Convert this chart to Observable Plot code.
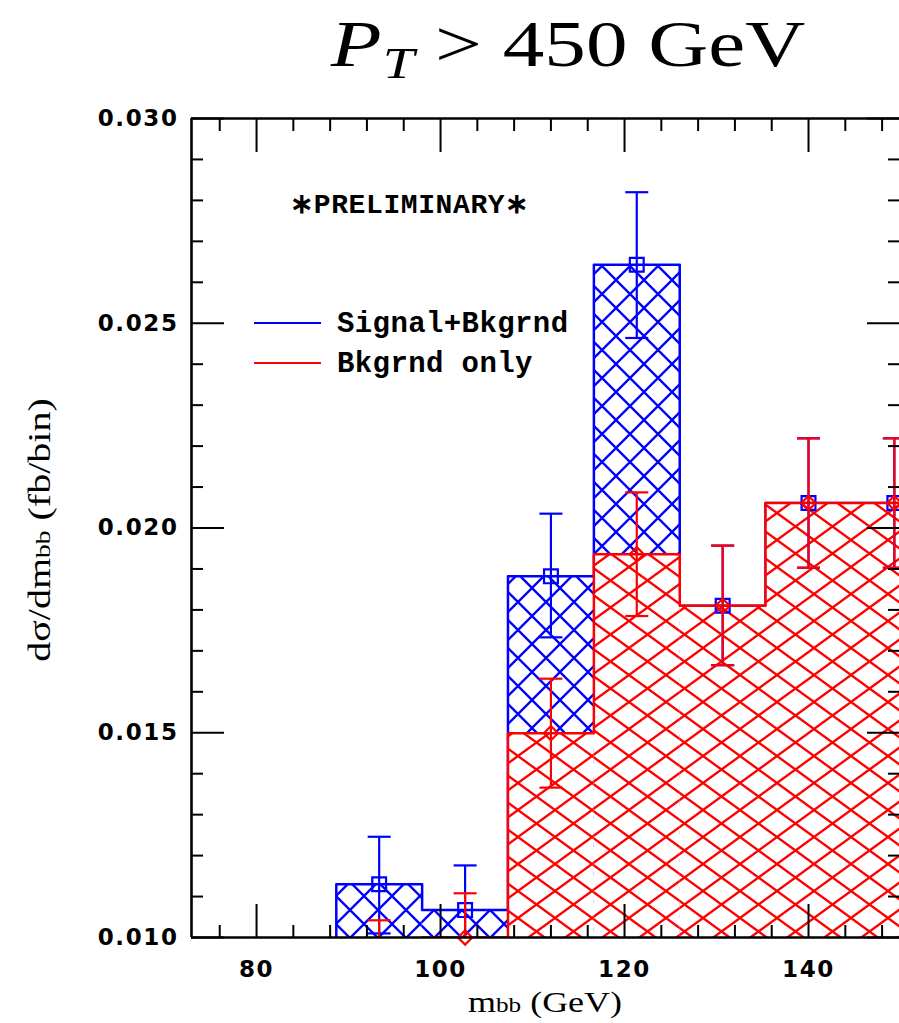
<!DOCTYPE html>
<html><head><meta charset="utf-8">
<script src="https://cdn.jsdelivr.net/npm/d3@7"></script>
<script src="https://cdn.jsdelivr.net/npm/@observablehq/plot@0.6"></script>
<style>
body{margin:0;background:#fff;}
#chart{position:relative;width:899px;height:1023px;overflow:hidden;}
</style>
</head><body><div id="chart"></div>
<script>
// ---- data ----
const binEdges   = [88.67, 98, 107.33, 116.67, 126, 135.33, 144.67, 154];
const binCenters = [93.33, 102.67, 112, 121.33, 130.67, 140, 149.33];
const sigBkg     = [0.0113, 0.01067, 0.01882, 0.02643, 0.0181, 0.02061, 0.02061];
const sigBkgLo   = [0.0101, 0.00962, 0.01733, 0.02464, 0.01665, 0.01903, 0.01903];
const sigBkgHi   = [0.01246, 0.01176, 0.02035, 0.0282, 0.01957, 0.02219, 0.02219];
const bkgOnly    = [0.0093, 0.0100, 0.01499, 0.01936, 0.0181, 0.02061, 0.02061];
const bkgOnlyLo  = [0.0082, 0.0089, 0.01366, 0.01785, 0.01665, 0.01903, 0.01903];
const bkgOnlyHi  = [0.01042, 0.01108, 0.01632, 0.02087, 0.01957, 0.02219, 0.02219];
const xMajorTicks = [80, 100, 120, 140];
const xMinorTicks = [76, 84, 88, 92, 96, 104, 108, 112, 116, 124, 128, 132, 136, 144, 148];
const yMajorTicks = [0.010, 0.015, 0.020, 0.025, 0.030];
const yMinorTicks = [0.011, 0.012, 0.013, 0.014, 0.016, 0.017, 0.018, 0.019,
                     0.021, 0.022, 0.023, 0.024, 0.026, 0.027, 0.028, 0.029];
const seriesNames = ["Signal+Bkgrnd", "Bkgrnd only"];
const xDomain = [72.93, 149.89];
const yDomain = [0.010, 0.030];

const BLUE = "#0000ff", RED = "#ff0000";

function rows(vals, lo, hi) {
  return binCenters.map((x, i) => ({x, x1: binEdges[i], x2: binEdges[i + 1], v: vals[i], lo: lo[i], hi: hi[i]}));
}
const blueRows = rows(sigBkg, sigBkgLo, sigBkgHi);
const redRows = rows(bkgOnly, bkgOnlyLo, bkgOnlyHi);
function outline(rs) {
  const pts = [{x: rs[0].x1, y: 0}];
  rs.forEach(r => { pts.push({x: r.x1, y: r.v}); pts.push({x: r.x2, y: r.v}); });
  return pts;
}
function caps(rs) {
  return rs.flatMap(r => [{x: r.x, y: r.lo}, {x: r.x, y: r.hi}]);
}
const capSymbol = {draw(ctx, size) { const r = Math.sqrt(size / Math.PI); ctx.moveTo(-r, 0); ctx.lineTo(r, 0); }};

const tickFont = {fontSize: 23, fontWeight: "bold", fontFamily: "DejaVu Sans"};

const plot = Plot.plot({
  width: 899, height: 1023,
  marginLeft: 191, marginRight: 0, marginTop: 118, marginBottom: 86,
  x: {domain: xDomain},
  y: {domain: yDomain},
  style: {background: "white", color: "black"},
  marks: [
    // Signal+Bkgrnd histogram
    Plot.rectY(blueRows, {x1: "x1", x2: "x2", y: "v", fill: "white", clip: true}),
    Plot.rectY(blueRows, {x1: "x1", x2: "x2", y: "v", fill: "url(#hatchBlue)", clip: true}),
    Plot.line(outline(blueRows), {x: "x", y: "y", stroke: BLUE, strokeWidth: 2.5, clip: true}),
    // Bkgrnd only histogram
    Plot.rectY(redRows, {x1: "x1", x2: "x2", y: "v", fill: "white", clip: true}),
    Plot.rectY(redRows, {x1: "x1", x2: "x2", y: "v", fill: "url(#hatchRed)", clip: true}),
    Plot.line(outline(redRows), {x: "x", y: "y", stroke: RED, strokeWidth: 2.5, clip: true}),
    // error bars + markers
    Plot.ruleX(blueRows, {x: "x", y1: "lo", y2: "hi", stroke: BLUE, strokeWidth: 2.2, clip: true}),
    Plot.dot(caps(blueRows), {x: "x", y: "y", symbol: capSymbol, r: 11.5, stroke: BLUE, strokeWidth: 2.2, clip: true}),
    Plot.dot(blueRows, {x: "x", y: "v", symbol: "square", r: 7.8, stroke: BLUE, strokeWidth: 2.2, fill: "none",
      filter: d => d.v >= yDomain[0]}),
    Plot.ruleX(redRows, {x: "x", y1: "lo", y2: "hi", stroke: RED, strokeWidth: 2.2, clip: true}),
    Plot.dot(caps(redRows), {x: "x", y: "y", symbol: capSymbol, r: 11.5, stroke: RED, strokeWidth: 2.2, clip: true}),
    Plot.dot(redRows, {x: "x", y: "v", symbol: "diamond2", r: 6.4, stroke: RED, strokeWidth: 2.2, fill: "none",
      filter: d => d.v >= yDomain[0]}),
    // frame
    Plot.ruleY(yDomain, {stroke: "black", strokeWidth: 2.6}),
    Plot.ruleX([xDomain[0]], {stroke: "black", strokeWidth: 2.6}),
    // ticks pointing inward on all four sides
    Plot.axisX(xMajorTicks, {anchor: "bottom", tickSize: -33, tickFormat: () => "", label: null, strokeWidth: 2}),
    Plot.axisX(xMinorTicks, {anchor: "bottom", tickSize: -12, tickFormat: () => "", label: null, strokeWidth: 2}),
    Plot.axisX(xMajorTicks, {anchor: "top", tickSize: -33, tickFormat: () => "", label: null, strokeWidth: 2}),
    Plot.axisX(xMinorTicks, {anchor: "top", tickSize: -12, tickFormat: () => "", label: null, strokeWidth: 2}),
    Plot.axisY(yMajorTicks, {anchor: "left", tickSize: -33, tickFormat: () => "", label: null, strokeWidth: 2}),
    Plot.axisY(yMinorTicks, {anchor: "left", tickSize: -12, tickFormat: () => "", label: null, strokeWidth: 2}),
    Plot.axisY(yMajorTicks, {anchor: "right", tickSize: -33, tickFormat: () => "", label: null, strokeWidth: 2}),
    Plot.axisY(yMinorTicks, {anchor: "right", tickSize: -12, tickFormat: () => "", label: null, strokeWidth: 2}),
    // tick labels
    Plot.axisX(xMajorTicks, {anchor: "bottom", tickSize: 0, tickPadding: 23, label: null, ...tickFont}),
    Plot.axisY(yMajorTicks, {anchor: "left", tickSize: 0, tickPadding: 13, label: null,
      tickFormat: d3.format(".3f"), ...tickFont}),
    // annotation
    Plot.text(["∗PRELIMINARY∗"], {frameAnchor: "top-left", dx: 218, dy: 86, text: d => d,
      textAnchor: "middle", lineAnchor: "middle", fontSize: 28, fontWeight: "bold",
      fontFamily: "Liberation Mono", fill: "black"})
  ]
});

const svg = d3.select(plot);
svg.selectAll('g[aria-label$="tick label"] text').attr("letter-spacing", "1.6px");
svg.selectAll('g[aria-label="text"] text').attr("letter-spacing", "0.6px");
const defs = svg.insert("defs", ":first-child");
function hatch(id, w, h, color) {
  const p = defs.append("pattern").attr("id", id).attr("patternUnits", "userSpaceOnUse")
    .attr("width", w).attr("height", h);
  p.append("path").attr("d", `M0,0L${w},${h}M0,${h}L${w},0`)
    .attr("stroke", color).attr("stroke-width", 2.3).attr("fill", "none");
}
hatch("hatchBlue", 28, 28, BLUE);
hatch("hatchRed", 37, 27, RED);

// legend
const leg = svg.append("g").attr("font-family", "Liberation Mono").attr("font-weight", "bold")
  .attr("font-size", 29).attr("text-anchor", "start");
[[BLUE, 323], [RED, 363]].forEach(([c, y], i) => {
  leg.append("line").attr("x1", 254).attr("x2", 321).attr("y1", y).attr("y2", y).attr("stroke", c).attr("stroke-width", 2.2);
  leg.append("text").attr("x", 337).attr("y", y).attr("dy", "0.32em").attr("letter-spacing", "0.4px")
    .attr("text-anchor", "start").text(seriesNames[i]);
});

// title
const t = svg.append("text").attr("transform", "translate(568,66) scale(1.26,1)")
  .attr("text-anchor", "middle").attr("font-family", "Liberation Serif").attr("font-size", 66).attr("fill", "black");
t.append("tspan").attr("font-style", "italic").text("P");
t.append("tspan").attr("font-style", "italic").attr("font-size", 45).attr("dy", 12).attr("dx", 1).text("T");
t.append("tspan").attr("dy", -12).text(" > 450 GeV");

// x-axis title
const xt = svg.append("text").attr("transform", "translate(545,1012) scale(1.2,1)")
  .attr("text-anchor", "middle").attr("font-family", "Liberation Serif").attr("font-size", 30).attr("fill", "black");
xt.append("tspan").text("m");
xt.append("tspan").attr("font-size", 21).text("bb");
xt.append("tspan").text(" (GeV)");

// y-axis title
const yt = svg.append("text").attr("transform", "translate(50,530) rotate(-90) scale(1.25,1)")
  .attr("text-anchor", "middle").attr("font-family", "Liberation Serif").attr("font-size", 32).attr("fill", "black");
yt.append("tspan").text("dσ/dm");
yt.append("tspan").attr("font-size", 22).text("bb");
yt.append("tspan").text(" (fb/bin)");

document.getElementById("chart").appendChild(plot);
</script>
</body></html>
